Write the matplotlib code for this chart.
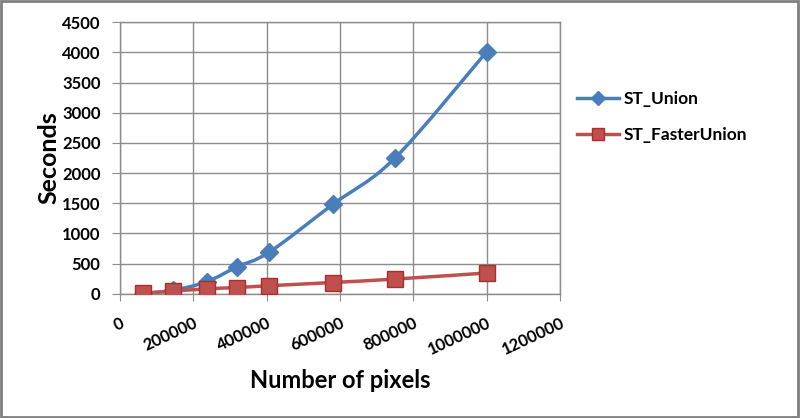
import numpy as np
import matplotlib.pyplot as plt
from matplotlib.path import Path
from matplotlib.patches import PathPatch, Rectangle
from matplotlib.lines import Line2D

# pixel counts and run times (seconds)
pixels = [62500, 145000, 236000, 320000, 407000, 580000, 750000, 1000000]
st_union = [5, 60, 200, 450, 690, 1480, 2250, 4010]
st_faster_union = [12, 45, 83, 105, 135, 188, 245, 345]

x_ticks = [0, 200000, 400000, 600000, 800000, 1000000, 1200000]
y_ticks = [0, 500, 1000, 1500, 2000, 2500, 3000, 3500, 4000, 4500]

blue = '#4A7EBB'
red = '#C0504D'
red_edge = '#A5302C'
grid_col = '#8C8C8C'

plt.rcParams['font.family'] = ['Lato', 'DejaVu Sans']


def smooth_path(xs, ys):
    # Excel style smoothed line: cubic bezier through every point
    pts = np.column_stack([xs, ys]).astype(float)
    n = len(pts)
    verts = [pts[0]]
    codes = [Path.MOVETO]
    for i in range(n - 1):
        p0 = pts[i - 1] if i > 0 else pts[i]
        p1 = pts[i]
        p2 = pts[i + 1]
        p3 = pts[i + 2] if i + 2 < n else pts[i + 1]
        c1 = p1 + (p2 - p0) / 6.0
        c2 = p2 - (p3 - p1) / 6.0
        verts += [c1, c2, p2]
        codes += [Path.CURVE4] * 3
    return Path(verts, codes)


fig = plt.figure(figsize=(8, 4.18), dpi=100)
ax = fig.add_axes([0.15, 0.297, 0.55, 0.65])

ax.add_patch(PathPatch(smooth_path(pixels, st_union), fill=False,
                       edgecolor=blue, lw=2.5, zorder=3, capstyle='round'))
ax.add_patch(PathPatch(smooth_path(pixels, st_faster_union), fill=False,
                       edgecolor=red, lw=2.5, zorder=3, capstyle='round'))
ax.plot(pixels, st_union, linestyle='none', marker='D', markersize=9.5,
        color=blue, markeredgecolor=blue, zorder=4)
ax.plot(pixels, st_faster_union, linestyle='none', marker='s', markersize=11.5,
        color=red, markeredgecolor=red_edge, markeredgewidth=1, zorder=5)

ax.set_xlim(0, 1200000)
ax.set_ylim(0, 4500)
ax.set_xticks(x_ticks)
ax.set_yticks(y_ticks)
ax.set_xticklabels([str(t) for t in x_ticks], rotation=25, ha='right',
                   va='top', rotation_mode='anchor', fontsize=12,
                   fontweight='bold')
ax.set_yticklabels([str(t) for t in y_ticks], fontsize=12, fontweight='bold')
ax.tick_params(axis='x', direction='out', length=5, color=grid_col, pad=10)
ax.tick_params(axis='y', direction='out', length=6, color=grid_col, pad=8)

ax.grid(True, color=grid_col, lw=1)
ax.set_axisbelow(True)
for s in ax.spines.values():
    s.set_color(grid_col)
    s.set_linewidth(1)

ax.set_xlabel('Number of pixels', fontsize=17, fontweight='bold', labelpad=8)
ax.set_ylabel('Seconds', fontsize=18, fontweight='bold', labelpad=1)

handles = [
    Line2D([], [], color=blue, lw=2.5, marker='D', markersize=7.5),
    Line2D([], [], color=red, lw=2.5, marker='s', markersize=9,
           markeredgecolor=red_edge),
]
fig.legend(handles, ['ST_Union', 'ST_FasterUnion'], loc='upper left',
           bbox_to_anchor=(0.702, 0.82), frameon=False,
           prop={'weight': 'bold', 'size': 12.5}, handlelength=2.4,
           labelspacing=1.15, handletextpad=0.3)

fig.patches.append(Rectangle((0.001, 0.002), 0.997, 0.995,
                             transform=fig.transFigure, fill=False,
                             edgecolor='#808080', lw=2))

plt.savefig('out.png', dpi=100)
